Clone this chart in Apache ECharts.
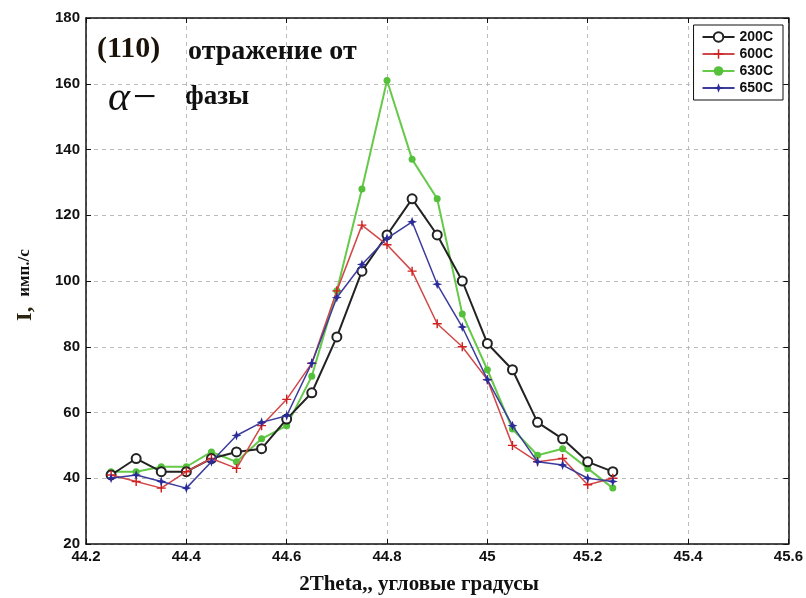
<!DOCTYPE html>
<html>
  <head>
    <title></title>
    <meta charset="UTF-8" />
    <script src="https://cdn.jsdelivr.net/npm/echarts@6/dist/echarts.min.js"></script>
    <style>
      body { margin: 0; background: #fff; }
    </style>
  </head>
  <body>
    <div id="main"></div>
    <script>
      const width = 806;
      const height = 598;
      const main = document.getElementById('main');
      main.style.width = `${width}px`;
      main.style.height = `${height}px`;

      // 2Theta, degrees
      const theta = [44.25, 44.3, 44.35, 44.4, 44.45, 44.5, 44.55, 44.6, 44.65, 44.7, 44.75,
        44.8, 44.85, 44.9, 44.95, 45.0, 45.05, 45.1, 45.15, 45.2, 45.25];
      const s200 = [41, 46, 42, 42, 46, 48, 49, 58, 66, 83, 103, 114, 125, 114, 100, 81, 73, 57, 52, 45, 42];
      const s600 = [41, 39, 37, 42, 46, 43, 56, 64, 75, 97, 117, 111, 103, 87, 80, 70, 50, 45, 46, 38, 40];
      const s630 = [42, 42, 43.5, 43.5, 48, 45, 52, 56, 71, 97, 128, 161, 137, 125, 90, 73, 55, 47, 49, 43, 37];
      const s650 = [40, 41, 39, 37, 45, 53, 57, 59, 75, 95, 105, 113, 118, 99, 86, 70, 56, 45, 44, 40, 39];
      const names = ['200C', '600C', '630C', '650C'];

      const pair = (ys) => theta.map((x, i) => [x, ys[i]]);
      const plus = 'path://M4.2,0 L5.8,0 L5.8,4.2 L10,4.2 L10,5.8 L5.8,5.8 L5.8,10 L4.2,10 L4.2,5.8 L0,5.8 L0,4.2 L4.2,4.2 Z';
      const star = 'path://M5,0 L6.3,3.7 L10,5 L6.3,6.3 L5,10 L3.7,6.3 L0,5 L3.7,3.7 Z';

      const tickFont = { fontFamily: 'Liberation Sans', fontWeight: 'bold', fontSize: 15, color: '#111' };
      const grid = { left: 86, right: 16, top: 18, bottom: 54 };

      const axisCommon = {
        axisLine: { show: true, onZero: false, lineStyle: { color: '#111', width: 1.5 } },
        axisTick: { inside: true, length: 5, lineStyle: { color: '#111' } },
      };

      const myChart = echarts.init(main);
      myChart.setOption({
        animation: false,
        backgroundColor: '#fff',
        grid: grid,
        legend: {
          data: names,
          orient: 'vertical',
          right: 23,
          top: 25,
          itemGap: 3,
          itemWidth: 32,
          itemHeight: 12,
          padding: [5, 10, 5, 8],
          borderColor: '#111',
          borderWidth: 1,
          backgroundColor: '#fff',
          textStyle: { fontFamily: 'Liberation Sans', fontWeight: 'bold', fontSize: 14, color: '#111' },
        },
        xAxis: [
          {
            type: 'value', min: 44.2, max: 45.6, interval: 0.2,
            ...axisCommon,
            axisLabel: { ...tickFont, margin: 5, formatter: (v) => String(+v.toFixed(1)) },
            splitLine: { show: true, lineStyle: { type: [4, 4], color: '#bbb' } },
          },
          {
            type: 'value', position: 'top', min: 44.2, max: 45.6, interval: 0.2,
            ...axisCommon, axisLabel: { show: false }, splitLine: { show: false },
          },
        ],
        yAxis: [
          {
            type: 'value', min: 20, max: 180, interval: 20,
            ...axisCommon,
            axisLabel: { ...tickFont, margin: 6 },
            splitLine: { show: true, lineStyle: { type: [4, 4], color: '#bbb' } },
          },
          {
            type: 'value', position: 'right', min: 20, max: 180, interval: 20,
            ...axisCommon, axisLabel: { show: false }, splitLine: { show: false },
          },
        ],
        series: [
          {
            name: '200C', type: 'line', data: pair(s200),
            symbol: 'circle', symbolSize: 9, showAllSymbol: true,
            lineStyle: { color: '#222', width: 2 },
            itemStyle: { color: '#fff', borderColor: '#222', borderWidth: 2 },
            z: 3,
          },
          {
            name: '600C', type: 'line', data: pair(s600),
            symbol: plus, symbolSize: 9,
            lineStyle: { color: '#d24848', width: 1.5 },
            itemStyle: { color: '#d02020' },
            z: 4,
          },
          {
            name: '630C', type: 'line', data: pair(s630),
            symbol: 'circle', symbolSize: 7,
            lineStyle: { color: '#66c94a', width: 2 },
            itemStyle: { color: '#55c03a' },
            z: 2,
          },
          {
            name: '650C', type: 'line', data: pair(s650),
            symbol: star, symbolSize: 10,
            lineStyle: { color: '#3c3c9c', width: 1.5 },
            itemStyle: { color: '#2a2a9a' },
            z: 5,
          },
        ],
        graphic: [
          {
            type: 'text', left: 97, top: 34,
            style: { text: '(110)', font: 'bold 30px "Liberation Serif"', fill: '#1a1208' },
          },
          {
            type: 'text', left: 188, top: 38,
            style: { text: 'отражение от', font: 'bold 28px "Liberation Serif"', fill: '#111' },
          },
          {
            type: 'text', left: 108, top: 78,
            style: { text: 'α−', font: 'italic 42px "Liberation Serif"', fill: '#111' },
          },
          {
            type: 'text', left: 185, top: 84,
            style: { text: 'фазы', font: 'bold 27px "Liberation Serif"', fill: '#111' },
          },
          {
            type: 'text', x: 419, y: 585,
            style: {
              text: '2Theta,, угловые градусы', font: 'bold 21px "Liberation Serif"',
              fill: '#111', align: 'center', verticalAlign: 'middle',
            },
          },
          {
            type: 'text', x: 25, y: 285, rotation: Math.PI / 2,
            style: {
              text: '{a|I,}   {b|имп./с}',
              align: 'center', verticalAlign: 'middle',
              rich: {
                a: { font: 'bold 22px "Liberation Serif"', fill: '#2a2410' },
                b: { font: 'bold 17px "Liberation Serif"', fill: '#111' },
              },
            },
          },
        ],
      });
    </script>
  </body>
</html>
